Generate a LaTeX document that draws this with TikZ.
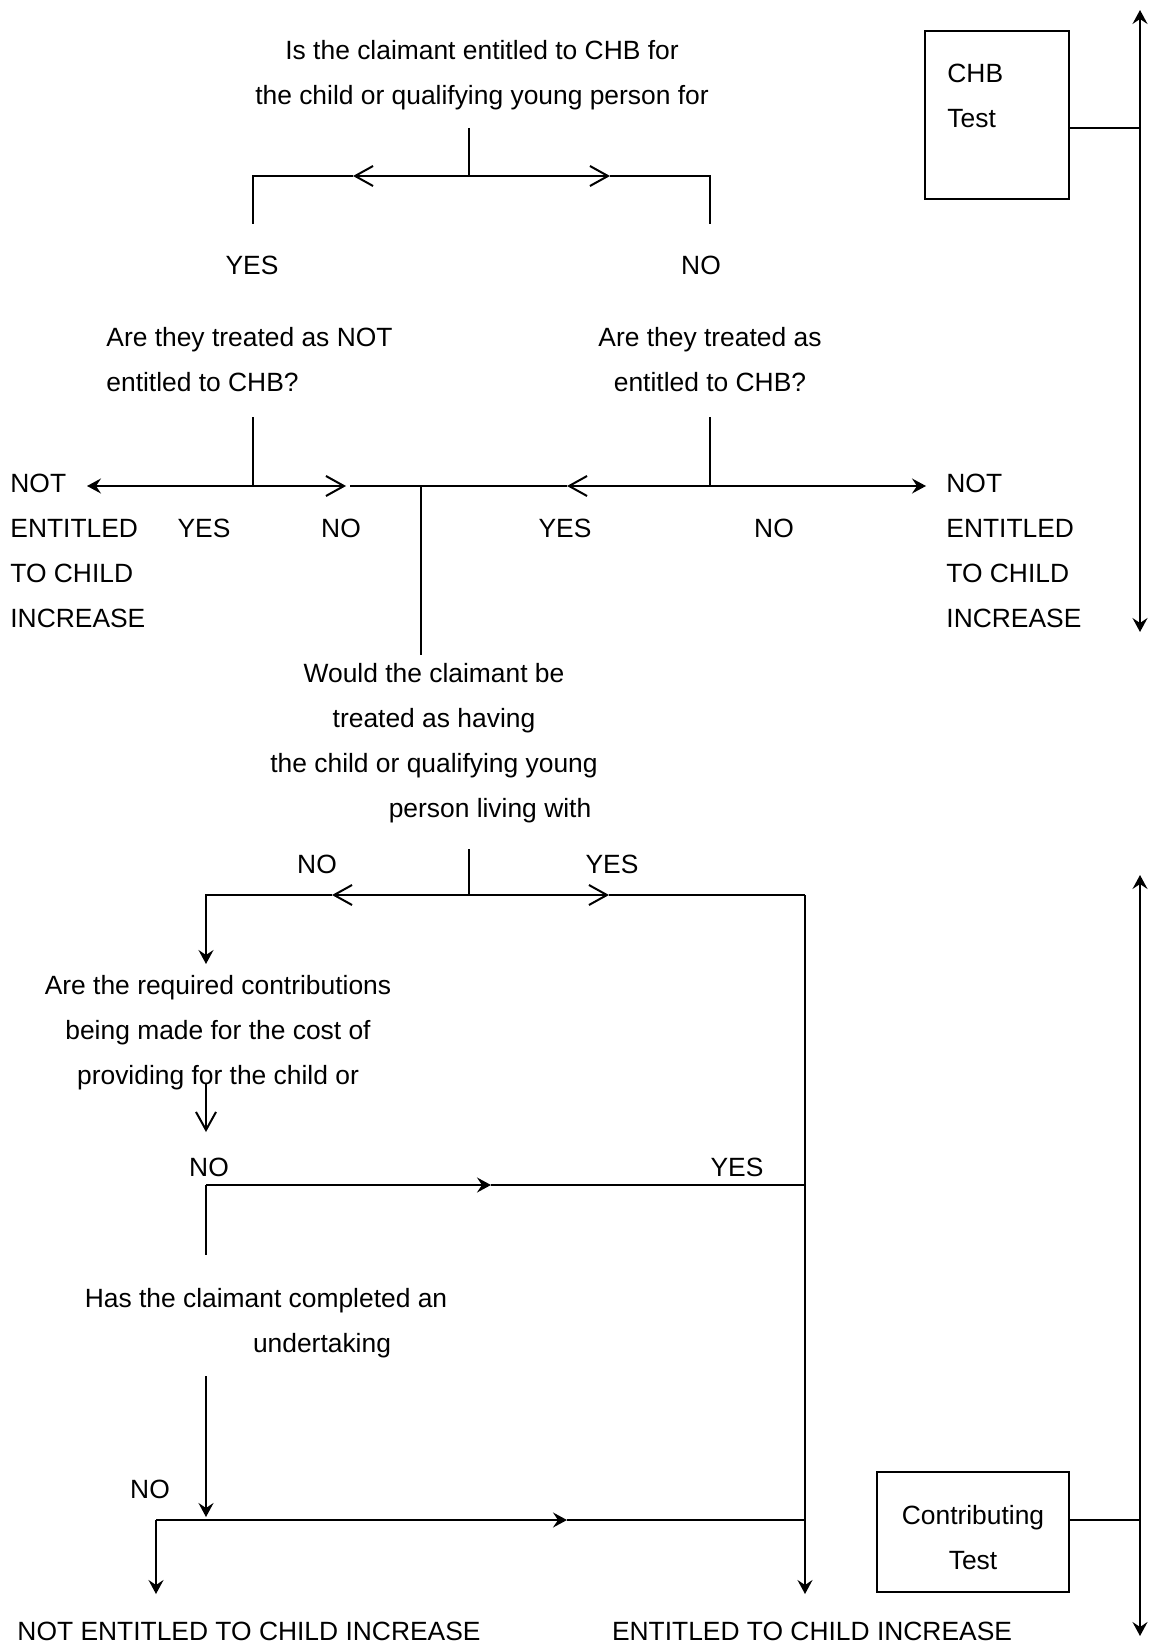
\documentclass[tikz,border=0pt]{standalone}
\usepackage{fontspec}
\setmainfont{Liberation Sans}
\usetikzlibrary{arrows.meta,positioning}
\tikzset{
    txt/.style={inner sep=0pt, font=\fontsize{13.2}{22.5}\selectfont},
    question/.style={txt, align=center},
    leftq/.style={txt, align=left, anchor=west},
    testbox/.style={draw, line width=1pt},
    line/.style={draw, line width=1pt},
    barb/.style={line, -{Straight Barb[length=9pt,width=10pt]}},
    pointer/.style={line, -{Stealth[length=7pt,width=7.5pt,inset=2.5pt]}},
    twoway/.style={line, {Stealth[length=7pt,width=7.5pt,inset=2.5pt]}-{Stealth[length=7pt,width=7.5pt,inset=2.5pt]}}
}
\begin{document}
\begin{tikzpicture}[x=0.5pt, y=-0.5pt]
    \useasboundingbox (0,0) rectangle (1150,1647);

    % CHB test
    \node[question] (chbq) at (482,75) {Is the claimant entitled to CHB for\\the child or qualifying young person for};
    \node[txt] (yes1) at (252,265) {YES};
    \node[txt] (no1) at (701,265) {NO};
    \coordinate (s1top) at (469,128);
    \coordinate (s1) at (469,176);
    \coordinate (s1l) at (353,176);
    \coordinate (s1r) at (610,176);
    \coordinate (yes1end) at (253,224);
    \coordinate (no1end) at (710,224);
    \draw[line] (s1top) -- (s1);
    \draw[barb] (s1) -- (s1l);
    \draw[barb] (s1) -- (s1r);
    \draw[line] (s1l) -| (yes1end);
    \draw[line] (s1r) -| (no1end);

    \node[leftq] (notq) at (106,360) {Are they treated as NOT\\entitled to CHB?};
    \node[question] (asq) at (710,360) {Are they treated as\\entitled to CHB?};
    \node[leftq] (notleft) at (10,551) {NOT\\ENTITLED\\TO CHILD\\INCREASE};
    \node[leftq] (notright) at (946,551) {NOT\\ENTITLED\\TO CHILD\\INCREASE};
    \node[txt] (yes2) at (204,528) {YES};
    \node[txt] (no2) at (341,528) {NO};
    \node[txt] (yes3) at (565,528) {YES};
    \node[txt] (no3) at (774,528) {NO};

    \coordinate (s2top) at (253,417);
    \coordinate (s2) at (253,486);
    \coordinate (s3top) at (710,417);
    \coordinate (s3) at (710,486);
    \coordinate (s2l) at (87,486);
    \coordinate (s2r) at (346,486);
    \coordinate (mid) at (350,486);
    \coordinate (s3l) at (567,486);
    \coordinate (s3r) at (926,486);
    \coordinate (join) at (421,486);
    \coordinate (joinend) at (421,655);
    \draw[line] (s2top) -- (s2);
    \draw[line] (s3top) -- (s3);
    \draw[pointer] (s2) -- (s2l);
    \draw[barb] (s2) -- (s2r);
    \draw[line] (mid) -- (s3l);
    \draw[barb] (s3) -- (s3l);
    \draw[pointer] (s3) -- (s3r);
    \draw[line] (join) -- (joinend);

    \node[testbox, minimum width=72pt, minimum height=84pt] (chbbox) at (997,115.5) {};
    \node[leftq] (chbtext) at (947,95.5) {CHB\\Test};
    \coordinate (chbarrow) at (1140,128);
    \coordinate (chbtop) at (1140,10);
    \coordinate (chbbot) at (1140,632);
    \draw[twoway] (chbtop) -- (chbbot);
    \draw[line] (chbbox.east |- chbarrow) -- (chbarrow);

    % Contributing test
    \node[question] (liveq) at (434,743) {Would the claimant be\\treated as having\\the child or qualifying young\\\hspace*{56pt}person living with};
    \node[txt] (no4) at (317,864) {NO};
    \node[txt] (yes4) at (612,864) {YES};
    \coordinate (s4top) at (469,849);
    \coordinate (s4) at (469,895);
    \coordinate (s4l) at (332,895);
    \coordinate (s4r) at (609,895);
    \coordinate (contq) at (206,964);
    \coordinate (corner) at (805,895);
    \coordinate (entitled) at (805,1594);
    \draw[line] (s4top) -- (s4);
    \draw[barb] (s4) -- (s4l);
    \draw[barb] (s4) -- (s4r);
    \draw[pointer] (s4l) -| (contq);
    \draw[line] (s4r) -- (corner);
    \draw[pointer] (corner) -- (entitled);

    \node[question] (costq) at (218,1033) {Are the required contributions\\being made for the cost of\\providing for the child or};
    \coordinate (c1top) at (206,1084);
    \coordinate (c1) at (206,1132);
    \draw[barb] (c1top) -- (c1);
    \node[txt] (no5) at (209,1167) {NO};
    \node[txt] (yes5) at (737,1167) {YES};
    \coordinate (c2) at (206,1185);
    \coordinate (c2mid) at (491,1185);
    \coordinate (c2end) at (206,1255);
    \draw[pointer] (c2) -- (c2mid);
    \draw[line] (c2mid) -- (corner |- c2mid);
    \draw[line] (c2) -- (c2end);

    \node[question] (undq) at (266,1323) {Has the claimant completed an\\\hspace*{56pt}undertaking};
    \node[txt] (no6) at (150,1489) {NO};
    \coordinate (u1top) at (206,1376);
    \coordinate (u1) at (206,1517);
    \draw[pointer] (u1top) -- (u1);
    \coordinate (u2) at (156,1520);
    \coordinate (u2mid) at (567,1520);
    \coordinate (u2end) at (156,1594);
    \draw[pointer] (u2) -- (u2mid);
    \draw[line] (u2mid) -- (corner |- u2mid);
    \draw[pointer] (u2) -- (u2end);

    \node[txt] (notent) at (249,1631) {NOT ENTITLED TO CHILD INCREASE};
    \node[txt] (ent) at (812,1631) {ENTITLED TO CHILD INCREASE};

    \node[testbox, minimum width=96pt, minimum height=60pt] (contbox) at (973,1532) {};
    \node[question] (conttext) at (973,1538) {Contributing\\Test};
    \coordinate (contarrow) at (1140,1520);
    \coordinate (conttop) at (1140,875);
    \coordinate (contbot) at (1140,1636);
    \draw[twoway] (conttop) -- (contbot);
    \draw[line] (contbox.east |- contarrow) -- (contarrow);
\end{tikzpicture}
\end{document}
